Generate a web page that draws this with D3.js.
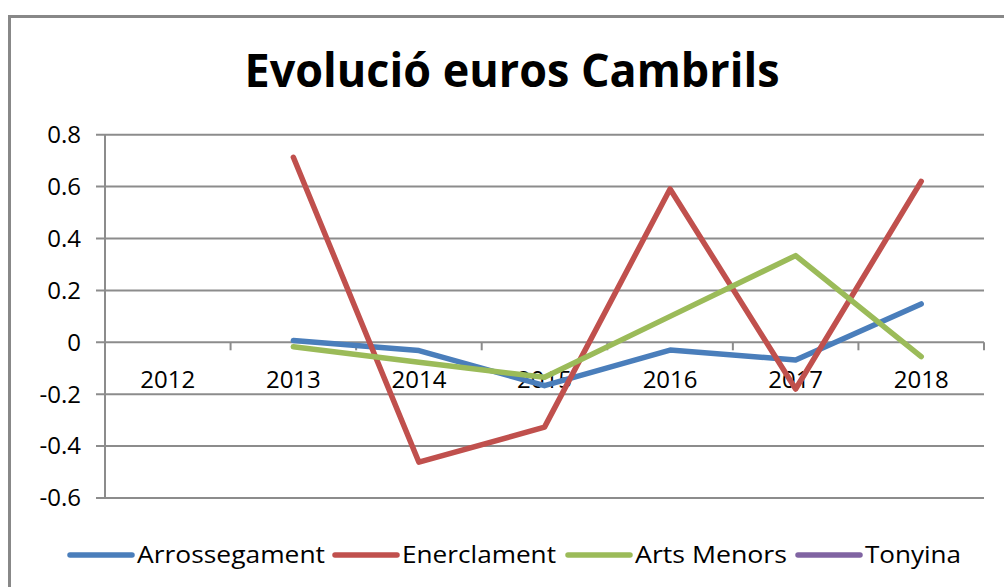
<!DOCTYPE html>
<html>
<head>
<meta charset="utf-8">
<script src="https://cdn.jsdelivr.net/npm/d3@7"></script>
<style>
  body { margin: 0; background: #fff; }
  text { font-family: "Open Sans", sans-serif; }
</style>
</head>
<body>
<script>
var years = ["2012", "2013", "2014", "2015", "2016", "2017", "2018"];
var arrossegament = [null, 0.007, -0.032, -0.167, -0.03, -0.068, 0.148];
var enerclament = [null, 0.713, -0.462, -0.327, 0.591, -0.18, 0.62];
var artsMenors = [null, -0.017, -0.077, -0.135, 0.1, 0.334, -0.055];
var tonyina = [null, null, null, null, null, null, null];
var seriesNames = ["Arrossegament", "Enerclament", "Arts Menors", "Tonyina"];
var yTicks = [0.8, 0.6, 0.4, 0.2, 0, -0.2, -0.4, -0.6];

var colors = ["#4A7EBB", "#C0504D", "#9BBB59", "#8064A2"];
var allSeries = [arrossegament, enerclament, artsMenors, tonyina];

var W = 1004, H = 587;
var margin = { top: 134.7, right: 20, bottom: 89, left: 105 },
    width = W - margin.left - margin.right,
    height = H - margin.top - margin.bottom;

var root = d3.select("body").append("svg")
    .attr("width", W)
    .attr("height", H);

// kader
root.append("rect")
    .attr("x", 9.5).attr("y", 16.5)
    .attr("width", W + 10).attr("height", H + 10)
    .attr("fill", "#fff")
    .attr("stroke", "#888")
    .attr("stroke-width", 3);

// titel
root.append("text")
    .attr("x", 512).attr("y", 87)
    .attr("text-anchor", "middle")
    .attr("textLength", 535)
    .attr("lengthAdjust", "spacingAndGlyphs")
    .style("font-size", "46px")
    .style("font-weight", "bold")
    .text("Evolució euros Cambrils");

var svg = root.append("g")
    .attr("transform", "translate(" + margin.left + "," + margin.top + ")");

var x = d3.scaleBand().domain(years).range([0, width]);
var y = d3.scaleLinear().domain([-0.6, 0.8]).range([height, 0]);

// rasterlijnen
svg.selectAll(".grid")
    .data(yTicks)
    .enter().append("line")
    .attr("x1", -9).attr("x2", width)
    .attr("y1", function(d) { return y(d); })
    .attr("y2", function(d) { return y(d); })
    .attr("stroke", "#8c8c8c")
    .attr("stroke-width", 2);

// Y-as
svg.append("line")
    .attr("x1", 0).attr("x2", 0)
    .attr("y1", 0).attr("y2", height)
    .attr("stroke", "#8c8c8c")
    .attr("stroke-width", 2);

svg.selectAll(".ylab")
    .data(yTicks)
    .enter().append("text")
    .attr("x", -24)
    .attr("y", function(d) { return y(d); })
    .attr("dy", "0.35em")
    .attr("text-anchor", "end")
    .style("font-size", "24px")
    .text(function(d) { return d === 0 ? "0" : d.toFixed(1); });

// X-as ticks op de nullijn
var bounds = years.map(function(d) { return x(d); }).concat([width]);
svg.selectAll(".xtick")
    .data(bounds.slice(1))
    .enter().append("line")
    .attr("x1", function(d) { return d; })
    .attr("x2", function(d) { return d; })
    .attr("y1", y(0)).attr("y2", y(0) + 8)
    .attr("stroke", "#8c8c8c")
    .attr("stroke-width", 2);

svg.selectAll(".xlab")
    .data(years)
    .enter().append("text")
    .attr("x", function(d) { return x(d) + x.bandwidth() / 2; })
    .attr("y", y(0) + 37)
    .attr("dy", "0.35em")
    .attr("text-anchor", "middle")
    .style("font-size", "24px")
    .text(function(d) { return d; });

// lijnen
var line = d3.line()
    .defined(function(d) { return d != null; })
    .x(function(d, i) { return x(years[i]) + x.bandwidth() / 2; })
    .y(function(d) { return y(d); });

allSeries.forEach(function(s, i) {
    svg.append("path")
        .datum(s)
        .attr("d", line)
        .attr("fill", "none")
        .attr("stroke", colors[i])
        .attr("stroke-width", 5.5)
        .attr("stroke-linejoin", "round")
        .attr("stroke-linecap", "round");
});

// legenda
var legendX = [70, 335, 568, 798];
var legendW = [188, 154, 152, 96];
var legend = root.append("g");
seriesNames.forEach(function(name, i) {
    legend.append("line")
        .attr("x1", legendX[i]).attr("x2", legendX[i] + 62)
        .attr("y1", 555).attr("y2", 555)
        .attr("stroke", colors[i])
        .attr("stroke-width", 5.5)
        .attr("stroke-linecap", "round");
    legend.append("text")
        .attr("x", legendX[i] + 67)
        .attr("y", 555)
        .attr("dy", "0.35em")
        .attr("textLength", legendW[i])
        .attr("lengthAdjust", "spacingAndGlyphs")
        .style("font-size", "24px")
        .text(name);
});
</script>
</body>
</html>
